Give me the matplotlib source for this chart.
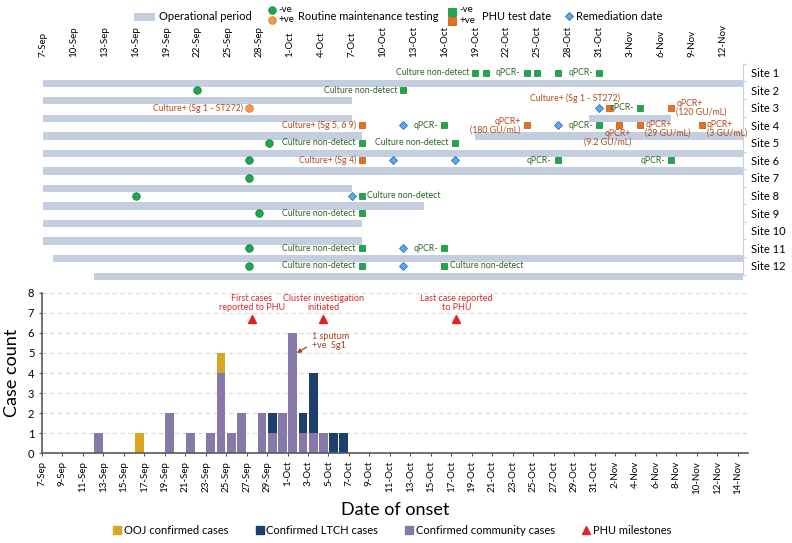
import matplotlib
matplotlib.use("Agg")
import matplotlib.pyplot as plt
import matplotlib.dates as mdates
from matplotlib.lines import Line2D
from matplotlib.patches import Rectangle
import numpy as np
import pandas as pd

plt.rcParams['font.family'] = ['Lato', 'DejaVu Sans']

YEAR = 2019


def dn(s):
    """'12-Sep' -> matplotlib date number"""
    return mdates.date2num(pd.to_datetime(f"{s}-{YEAR}", format="%d-%b-%Y"))


def lab(x):
    t = mdates.num2date(x)
    return f"{t.day}-{t.strftime('%b')}"


# ---------------- data ----------------
sites = [f"Site {i}" for i in range(1, 13)]

# operational periods
op_site = [1, 2, 3, 3, 4, 4, 5, 6, 7, 8, 9, 10, 11, 12]
op_start = ['7-Sep', '7-Sep', '7-Sep', '30-Oct', '7-Sep', '19-Oct', '7-Sep', '7-Sep',
            '7-Sep', '7-Sep', '7-Sep', '7-Sep', '8-Sep', '12-Sep']
op_end = ['14-Nov', '7-Oct', '7-Oct', '7-Nov', '8-Oct', '14-Nov', '14-Nov', '14-Nov',
          '7-Oct', '14-Oct', '8-Oct', '8-Oct', '14-Nov', '14-Nov']

# routine maintenance testing (1 = +ve)
routine_site = [2, 3, 5, 6, 7, 8, 9, 11, 12]
routine_date = ['22-Sep', '27-Sep', '29-Sep', '27-Sep', '27-Sep', '16-Sep', '28-Sep', '27-Sep', '27-Sep']
routine_pos = [0, 1, 0, 0, 0, 0, 0, 0, 0]
routine_label = ['', 'Culture+ (Sg 1 - ST272)', '', '', '', '', '', '', '']

# PHU test dates (1 = +ve)
phu_site = [1, 1, 1, 1, 1, 1, 2, 3, 3, 3, 4, 4, 4, 4, 4, 4, 4,
            5, 5, 6, 6, 6, 8, 9, 11, 11, 12, 12]
phu_date = ['19-Oct', '20-Oct', '24-Oct', '25-Oct', '27-Oct', '31-Oct', '12-Oct',
            '1-Nov', '4-Nov', '7-Nov',
            '8-Oct', '16-Oct', '24-Oct', '31-Oct', '2-Nov', '4-Nov', '10-Nov',
            '8-Oct', '17-Oct', '8-Oct', '27-Oct', '7-Nov', '8-Oct', '8-Oct',
            '8-Oct', '16-Oct', '8-Oct', '16-Oct']
phu_pos = [0, 0, 0, 0, 0, 0, 0, 1, 0, 1, 1, 0, 1, 0, 1, 1, 1,
           0, 0, 1, 0, 0, 0, 0, 0, 0, 0, 0]
phu_label = ['Culture non-detect', '', 'qPCR-', '', '', 'qPCR-', 'Culture non-detect',
             'Culture+ (Sg 1 - ST272)', 'qPCR-', 'qPCR+\n(120 GU/mL)',
             'Culture+ (Sg 5, 6 9)', 'qPCR-', 'qPCR+\n(180 GU/mL)', 'qPCR-',
             'qPCR+\n(9.2 GU/mL)', 'qPCR+\n(29 GU/mL)', 'qPCR+\n(3 GU/mL)',
             'Culture non-detect', 'Culture non-detect', 'Culture+ (Sg 4)', 'qPCR-', 'qPCR-',
             'Culture non-detect', 'Culture non-detect', 'Culture non-detect', 'qPCR-',
             'Culture non-detect', 'Culture non-detect']
phu_side = ['L', '', 'L', '', '', 'L', 'L', 'A', 'L', 'R', 'L', 'L', 'L', 'L', 'B', 'R2', 'R2',
            'L', 'L', 'L', 'L', 'L', 'R', 'L', 'L', 'L', 'L', 'R']

# remediation dates
rem_site = [3, 4, 4, 6, 6, 8, 11, 12]
rem_date = ['31-Oct', '12-Oct', '27-Oct', '11-Oct', '17-Oct', '7-Oct', '12-Oct', '12-Oct']

# epi curve
onset = ['12-Sep', '16-Sep', '19-Sep', '21-Sep', '23-Sep', '24-Sep', '25-Sep', '26-Sep',
         '28-Sep', '29-Sep', '30-Sep', '1-Oct', '2-Oct', '3-Oct', '4-Oct', '5-Oct', '6-Oct']
community = [1, 0, 2, 1, 1, 4, 1, 2, 2, 1, 2, 6, 1, 1, 1, 0, 0]
ltch = [0, 0, 0, 0, 0, 0, 0, 0, 0, 1, 0, 0, 1, 3, 0, 1, 1]
ooj = [0, 1, 0, 0, 0, 1, 0, 0, 0, 0, 0, 0, 0, 0, 0, 0, 0]

milestone_date = ['27-Sep', '4-Oct', '17-Oct']
milestone_label = ['First cases\nreported to PHU', 'Cluster investigation\ninitiated',
                   'Last case reported\nto PHU']
milestone_y = 6.7

# ---------------- colours ----------------
OPBAR = '#C3CFDF'
GREEN, GREEN_E = '#1FA84B', '#178038'
ORANGE, ORANGE_E = '#E8701E', '#B8520F'
ORANGE_C = '#F39A4C'
BLUE, BLUE_E = '#5AAAEC', '#2A6FC0'
TXT_G = '#2C6622'
TXT_O = '#B24A18'
PURPLE, NAVY, GOLD = '#8679A9', '#1C3F6E', '#DAA520'
RED = '#E02424'

W, H = 792, 543
fig = plt.figure(figsize=(W / 100, H / 100), dpi=100)

# ================= top panel =================
ax = fig.add_axes([43 / W, 1 - 281 / H, 700 / W, 219 / H])
x0, x1 = dn('7-Sep'), dn('14-Nov')
ax.set_xlim(x0, x1)
ax.set_ylim(12.87, 0.39)

for s, a, b in zip(op_site, op_start, op_end):
    ax.barh(s + 0.6, dn(b) - dn(a), left=dn(a), height=0.42, color=OPBAR, lw=0)

fs = 6.3
sides = {'L': dict(xytext=(-4.5, 0), ha='right', va='center', multialignment='right'),
         'R': dict(xytext=(3.8, 0), ha='left', va='center', multialignment='left'),
         'R2': dict(xytext=(3.8, -2.4), ha='left', va='center', multialignment='left'),
         'A': dict(xytext=(8, 6.8), ha='right', va='center'),
         'B': dict(xytext=(8.4, -9), ha='right', va='center', multialignment='right')}

for s, dt, p, t in zip(routine_site, routine_date, routine_pos, routine_label):
    ax.plot(dn(dt), s, 'o', ms=5.4, mfc=ORANGE_C if p else GREEN,
            mec=ORANGE if p else GREEN_E, mew=0.6, zorder=3)
    if t:
        ax.annotate(t, (dn(dt), s), textcoords='offset points', fontsize=fs,
                    color=TXT_O if p else TXT_G, **sides['L'])

for s, dt, p, t, sd in zip(phu_site, phu_date, phu_pos, phu_label, phu_side):
    ax.plot(dn(dt), s, 's', ms=4.8, mfc=ORANGE if p else GREEN,
            mec=ORANGE_E if p else GREEN_E, mew=0.5, zorder=3)
    if t:
        ax.annotate(t, (dn(dt), s), textcoords='offset points', fontsize=fs,
                    color=TXT_O if p else TXT_G, linespacing=0.95, **sides[sd])

for s, dt in zip(rem_site, rem_date):
    ax.plot(dn(dt), s, 'D', ms=4.2, mfc=BLUE, mec=BLUE_E, mew=0.6, zorder=3)

top_ticks = np.arange(x0, x1 + 0.5, 3)
ax.xaxis.tick_top()
ax.set_xticks(top_ticks)
ax.set_xticklabels([lab(v) for v in top_ticks], rotation=90, fontsize=7)
ax.tick_params(axis='x', length=0, pad=3.5)

ax.yaxis.tick_right()
ax.set_yticks(range(1, 13))
ax.set_yticklabels(sites, fontsize=8)
ax.set_yticks(np.arange(0.5, 13, 1), minor=True)
ax.tick_params(axis='y', which='major', length=0, pad=6)
ax.tick_params(axis='y', which='minor', length=2.5, color='#D0D0D0', width=0.8)
for sp in ['top', 'left', 'bottom']:
    ax.spines[sp].set_visible(False)
ax.spines['right'].set_bounds(0.5, 12.5)
ax.spines['right'].set_color('#D0D0D0')

# ================= bottom panel =================
bx = fig.add_axes([42 / W, 1 - 453.3 / H, 706 / W, 160.6 / H])
bx.set_xlim(dn('7-Sep'), dn('15-Nov'))
bx.set_ylim(0, 8)

xs = np.array([dn(v) for v in onset]) + 0.5
com = np.array(community)
lt = np.array(ltch)
oj = np.array(ooj)
bx.bar(xs, com, width=0.86, color=PURPLE, lw=0, zorder=2)
bx.bar(xs, lt, bottom=com, width=0.86, color=NAVY, lw=0, zorder=2)
bx.bar(xs, oj, bottom=com + lt, width=0.86, color=GOLD, lw=0, zorder=2)

mx = np.array([dn(v) for v in milestone_date]) + 0.5
bx.plot(mx, [milestone_y] * len(mx), '^', color=RED, ms=5.8, zorder=3)
for xv, t in zip(mx, milestone_label):
    bx.annotate(t, (xv, milestone_y), xytext=(0, 11.5), textcoords='offset points',
                ha='center', va='center', fontsize=6.5, color='#D42A2A', linespacing=1.0)

bx.annotate('1 sputum\n+ve  Sg1', xy=(dn('1-Oct') + 0.9, 5.0),
            xytext=(dn('1-Oct') + 2.36, 5.57), ha='left', va='center', fontsize=6.5,
            color='#A0461E', linespacing=1.0,
            arrowprops=dict(arrowstyle='-|>', color='#A0461E', lw=0.9, mutation_scale=6,
                            relpos=(0, 0.35), shrinkA=2, shrinkB=0))

bot_ticks = np.arange(dn('7-Sep'), dn('14-Nov') + 0.5, 2)
bx.set_xticks(bot_ticks)
bx.set_xticklabels([lab(v) for v in bot_ticks], rotation=90, fontsize=7)
bx.set_yticks(range(0, 9))
bx.tick_params(axis='y', labelsize=8, length=2.5, color='#595959', pad=3)
bx.tick_params(axis='x', length=2.5, color='#595959', pad=3)
bx.yaxis.grid(True, ls=(0, (4, 3)), color='#D9D9D9', lw=0.8, zorder=0)
bx.set_axisbelow(True)
for sp in ['top', 'right']:
    bx.spines[sp].set_visible(False)
for sp in ['left', 'bottom']:
    bx.spines[sp].set_color('#595959')
    bx.spines[sp].set_linewidth(1.2)
bx.set_ylabel('Case count', fontsize=13, labelpad=6)
bx.set_xlabel('Date of onset', fontsize=13, labelpad=6)

handles = [Line2D([], [], marker='s', ls='', color=GOLD, ms=5.5),
           Line2D([], [], marker='s', ls='', color=NAVY, ms=5.5),
           Line2D([], [], marker='s', ls='', color=PURPLE, ms=5.5),
           Line2D([], [], marker='^', ls='', color=RED, ms=6)]
fig.legend(handles, ['OOJ confirmed cases', 'Confirmed LTCH cases',
                     'Confirmed community cases', 'PHU milestones'],
           loc='center', bbox_to_anchor=(392 / W, 1 - 530 / H), ncol=4, frameon=False,
           fontsize=8, handletextpad=0.2, columnspacing=2.4, handlelength=0.8)

# ================= top legend (pixel coords) =================
lg = fig.add_axes([0, 0, 1, 1])
lg.set_xlim(0, W)
lg.set_ylim(H, 0)
lg.axis('off')
lg.add_patch(Rectangle((134, 13.3), 21, 7.4, color=OPBAR, lw=0))
lg.text(159, 16.5, 'Operational period', fontsize=8, va='center')
lg.plot(271.7, 10, 'o', ms=5.4, mfc=GREEN, mec=GREEN_E, mew=0.6)
lg.plot(271.7, 20, 'o', ms=5.4, mfc=ORANGE_C, mec=ORANGE, mew=0.6)
lg.text(278, 9.5, '-ve', fontsize=7, va='center')
lg.text(278, 20, '+ve', fontsize=7, va='center')
lg.text(297.7, 16, 'Routine maintenance testing', fontsize=8, va='center')
lg.plot(452.3, 11.5, 's', ms=5.2, mfc=GREEN, mec=GREEN_E, mew=0.5)
lg.plot(452.3, 21, 's', ms=5.2, mfc=ORANGE, mec=ORANGE_E, mew=0.5)
lg.text(459.5, 9.5, '-ve', fontsize=7, va='center')
lg.text(459.5, 20.5, '+ve', fontsize=7, va='center')
lg.text(482.3, 17, 'PHU test date', fontsize=8, va='center')
lg.plot(568.7, 16, 'D', ms=4.4, mfc=BLUE, mec=BLUE_E, mew=0.6)
lg.text(576, 16, 'Remediation date', fontsize=8, va='center')

fig.savefig('out.png', dpi=100, facecolor='white')
